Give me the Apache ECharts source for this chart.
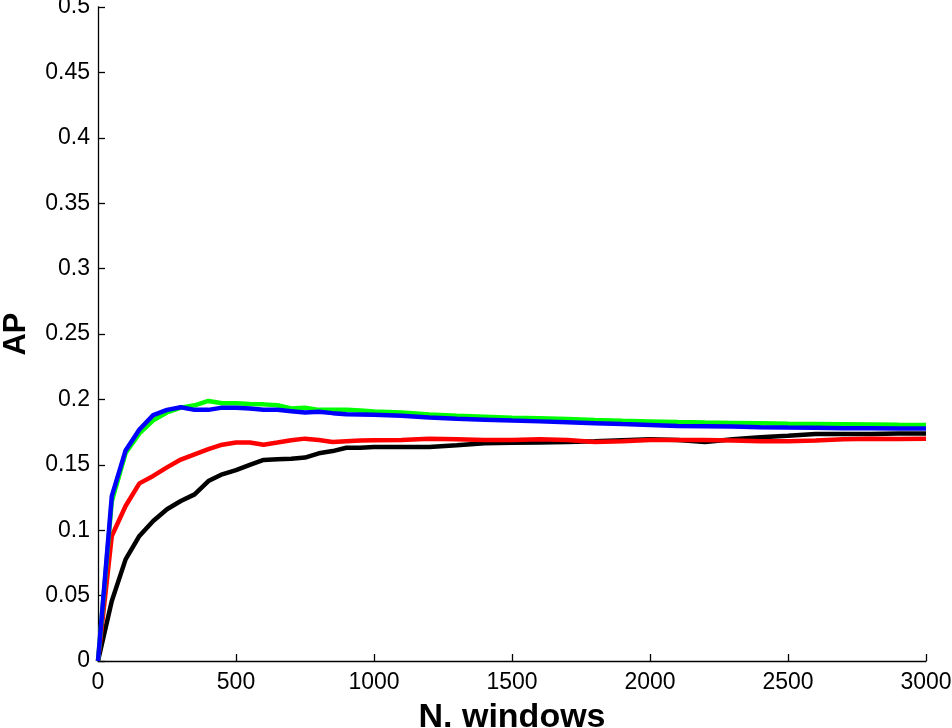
<!DOCTYPE html>
<html>
<head>
<meta charset="utf-8">
<title>AP vs N. windows</title>
<script src="https://cdn.jsdelivr.net/npm/echarts@6/dist/echarts.min.js"></script>
<style>
  html, body { margin: 0; padding: 0; background: #fff; }
  #chart { width: 952px; height: 728px; }
</style>
</head>
<body>
<div id="chart"></div>
<script>
// x positions (number of windows)
var nWindows = [0, 50, 100, 150, 200, 250, 300, 350, 400, 450, 500, 550, 600, 650, 700, 750, 800, 850, 900, 950, 1000,
  1100, 1200, 1300, 1400, 1500, 1600, 1700, 1800, 1900, 2000, 2100, 2200, 2300, 2400, 2500, 2600, 2700, 2800, 2900, 3000];

// AP curves
var apBlack = [0, 0.0459, 0.0777, 0.0956, 0.107, 0.116, 0.1223, 0.1274, 0.1376, 0.1427, 0.146, 0.150, 0.1537, 0.1542, 0.1547, 0.1555, 0.1588, 0.1605, 0.163, 0.163, 0.1636,
  0.1636, 0.1636, 0.165, 0.1665, 0.1668, 0.167, 0.1675, 0.168, 0.1688, 0.1695, 0.169, 0.1675, 0.1695, 0.171, 0.1722, 0.1735, 0.1735, 0.1735, 0.174, 0.174];
var apRed = [0, 0.0956, 0.1185, 0.1358, 0.1415, 0.148, 0.154, 0.158, 0.162, 0.1654, 0.167, 0.167, 0.1654, 0.167, 0.1687, 0.170, 0.169, 0.1675, 0.168, 0.1685, 0.1687,
  0.169, 0.170, 0.1695, 0.169, 0.169, 0.1695, 0.169, 0.1675, 0.168, 0.169, 0.169, 0.169, 0.1685, 0.168, 0.168, 0.1685, 0.1695, 0.170, 0.1698, 0.170];
var apGreen = [0, 0.122, 0.159, 0.174, 0.184, 0.190, 0.1937, 0.1955, 0.1988, 0.197, 0.197, 0.1965, 0.1962, 0.1955, 0.193, 0.1937, 0.192, 0.192, 0.192, 0.1915, 0.1907,
  0.190, 0.1885, 0.1875, 0.1868, 0.186, 0.1855, 0.185, 0.1843, 0.1837, 0.1832, 0.1827, 0.1823, 0.182, 0.1817, 0.1814, 0.1812, 0.181, 0.1808, 0.1806, 0.1805];
var apBlue = [0, 0.126, 0.161, 0.177, 0.188, 0.192, 0.194, 0.192, 0.192, 0.1937, 0.1937, 0.193, 0.192, 0.192, 0.191, 0.190, 0.1905, 0.1895, 0.1886, 0.1885, 0.1882,
  0.1875, 0.1862, 0.1852, 0.1845, 0.1838, 0.1832, 0.1825, 0.1818, 0.1811, 0.1805, 0.1797, 0.1795, 0.1792, 0.1788, 0.1785, 0.1783, 0.178, 0.1779, 0.1778, 0.1777];

function pairs(ys) {
  var out = [];
  for (var i = 0; i < nWindows.length; i++) out.push([nWindows[i], ys[i]]);
  return out;
}

function line(name, color, ys) {
  return {
    name: name,
    type: 'line',
    data: pairs(ys),
    symbol: 'none',
    smooth: false,
    lineStyle: { color: color, width: 4.5 },
    itemStyle: { color: color },
    animation: false
  };
}

var font = '"Liberation Sans", Arial, Helvetica, sans-serif';
var chart = echarts.init(document.getElementById('chart'));
chart.setOption({
  backgroundColor: '#fff',
  grid: { left: 98, right: 26, top: 7, bottom: 67, containLabel: false, outerBoundsMode: 'none' },
  xAxis: {
    type: 'value',
    min: 0, max: 3000, interval: 500,
    name: 'N. windows',
    nameLocation: 'middle',
    nameGap: 40,
    nameTextStyle: { fontFamily: font, fontSize: 34, fontWeight: 'bold', color: '#000' },
    axisLine: { show: true, lineStyle: { color: '#000', width: 1.3 } },
    axisTick: { show: true, inside: true, length: 7, lineStyle: { color: '#000', width: 1.3 } },
    axisLabel: { fontFamily: font, fontSize: 23, color: '#000', margin: 10,
      formatter: function (v) { return String(v); } },
    splitLine: { show: false }
  },
  yAxis: {
    type: 'value',
    min: 0, max: 0.5, interval: 0.05,
    name: 'AP',
    nameLocation: 'middle',
    nameGap: 66,
    nameRotate: 90,
    nameTextStyle: { fontFamily: font, fontSize: 31, fontWeight: 'bold', color: '#000' },
    axisLine: { show: true, lineStyle: { color: '#000', width: 1.3 } },
    axisTick: { show: true, inside: true, length: 7, lineStyle: { color: '#000', width: 1.3 } },
    axisLabel: {
      fontFamily: font, fontSize: 23, color: '#000', margin: 8,
      formatter: function (v) { return String(parseFloat(v.toFixed(2))); }
    },
    splitLine: { show: false }
  },
  series: [
    line('black', '#000000', apBlack),
    line('red', '#ff0000', apRed),
    line('green', '#00ff00', apGreen),
    line('blue', '#0000ff', apBlue)
  ]
});
</script>
</body>
</html>
